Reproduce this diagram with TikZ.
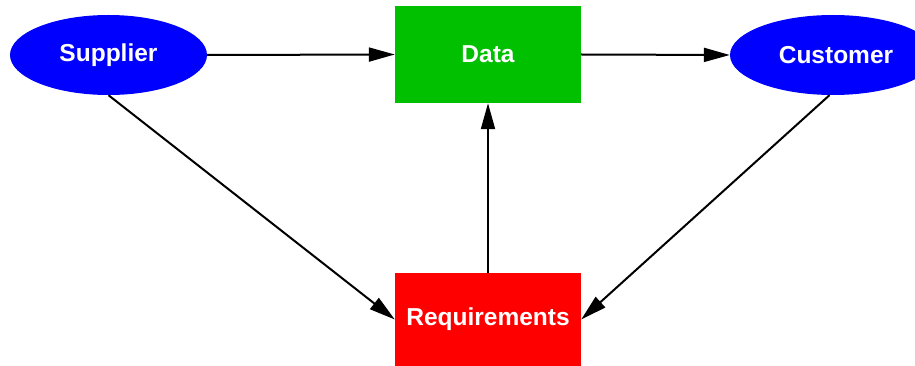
\documentclass[tikz,border=0pt]{standalone}
\usepackage{fontspec}
\setmainfont{Liberation Sans}
\usetikzlibrary{shapes.geometric,arrows.meta}
\definecolor{gvblue}{RGB}{0,0,255}
\definecolor{gvgreen}{RGB}{0,192,0}
\definecolor{gvred}{RGB}{255,0,0}
\begin{document}
\begin{tikzpicture}[x=1pt,y=-1pt,
  lbl/.style={text=white, font=\bfseries\fontsize{24.5}{28}\selectfont, inner sep=0pt},
  ell/.style={lbl, ellipse, fill=gvblue, minimum width=197pt, minimum height=80pt},
  box/.style={lbl, rectangle, minimum width=186pt},
  conn/.style={line width=2pt, -{Triangle[length=26pt,width=14pt]}}]
\useasboundingbox (0,0) rectangle (915,366);
\node[ell] (sup) at (108.5,55) {Supplier};
\node[ell, minimum width=206pt] (cus) at (833,55) {\hspace*{6pt}Customer};
\node[box, fill=gvgreen, minimum height=97pt] (data) at (488,54.5) {Data};
\node[box, fill=gvred, minimum height=93pt] (req) at (488,319.5) {Requirements};
\draw[conn] (sup.east) -- (data.west);
\draw[conn] (data.east) -- (cus.west);
\draw[conn] (sup.south) -- (req.west);
\draw[conn] (cus.265) -- (req.east);
\draw[conn] (req.north) -- (data.south);
\end{tikzpicture}
\end{document}
